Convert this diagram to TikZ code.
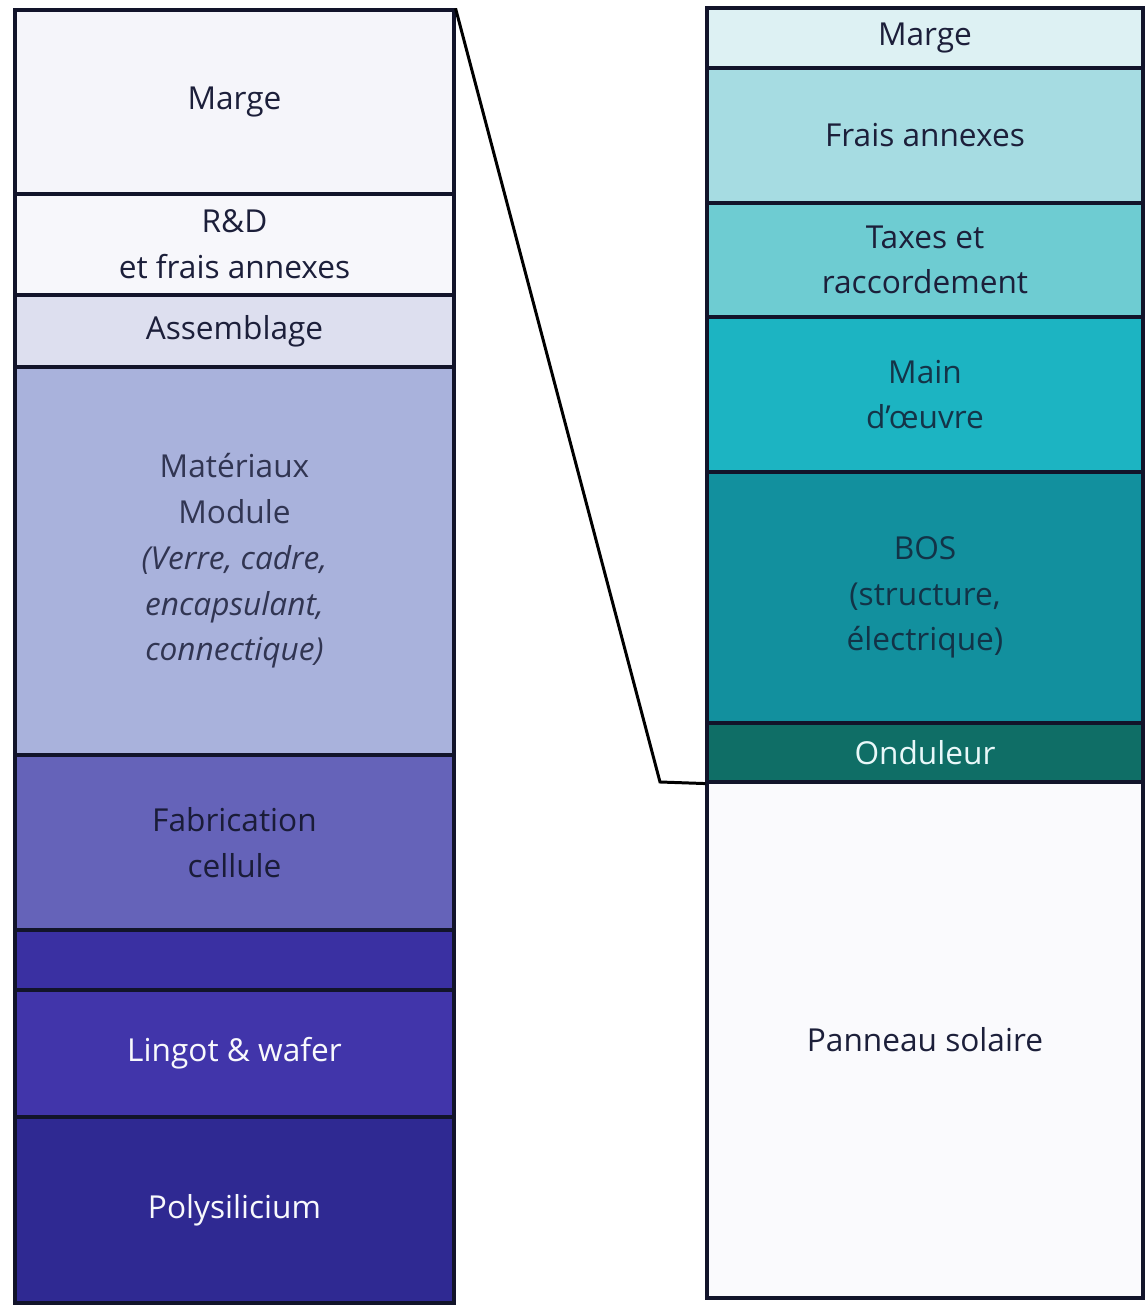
\documentclass[tikz,border=0pt]{standalone}
\usepackage{fontspec}
\setmainfont{Open Sans}
\usepackage{xcolor}
\definecolor{segline}{HTML}{12142A}
\definecolor{segtext}{HTML}{1C1F3A}
\definecolor{lmarge}{HTML}{F5F5FA}
\definecolor{lrd}{HTML}{F7F7FB}
\definecolor{lassem}{HTML}{DDDFEF}
\definecolor{lmater}{HTML}{A9B2DC}
\definecolor{lcell}{HTML}{6563B9}
\definecolor{lthin}{HTML}{3A30A2}
\definecolor{llingot}{HTML}{4135AA}
\definecolor{lpoly}{HTML}{2F2992}
\definecolor{rmarge}{HTML}{DDF1F3}
\definecolor{rfrais}{HTML}{A6DCE2}
\definecolor{rtaxes}{HTML}{6ECCD2}
\definecolor{rmain}{HTML}{1CB4C2}
\definecolor{rbos}{HTML}{12909E}
\definecolor{rond}{HTML}{0F6E66}
\definecolor{rpanel}{HTML}{FAFAFD}
\begin{document}
\begin{tikzpicture}
    \tikzset{
    cost seg/.style={rectangle,draw=segline,line width=1.8pt,inner sep=0,align=center,
        font=\fontsize{18}{26}\selectfont,text=segtext},
    left seg/.style={cost seg,minimum width=8.78cm},
    right seg/.style={cost seg,minimum width=8.72cm}
    }
    \useasboundingbox (0,0) rectangle (22.94,26.14);
    % chaine du module
    \node[left seg, fill=lmarge, minimum height=3.68cm] (LMarge) at (4.69,24.10) {Marge};
    \node[left seg, fill=lrd, minimum height=2.02cm] (RD) at (4.69,21.25) {R\&D\\et frais annexes};
    \node[left seg, fill=lassem, minimum height=1.44cm] (Assem) at (4.69,19.52) {Assemblage};
    \node[left seg, fill=lmater, minimum height=7.76cm, text=segtext!85!lmater] (Mater) at (4.69,14.92)
        {Matériaux\\Module\\\textit{(Verre, cadre,}\\\textit{encapsulant,}\\\textit{connectique)}};
    \node[left seg, fill=lcell, minimum height=3.50cm, text=segline!90!lcell] (Cell) at (4.69,9.29) {Fabrication\\cellule};
    \node[left seg, fill=lthin, minimum height=1.20cm] (Thin) at (4.69,6.94) {};
    \node[left seg, fill=llingot, minimum height=2.54cm, text=white!92!lmater] (Lingot) at (4.69,5.07) {Lingot \& wafer};
    \node[left seg, fill=lpoly, minimum height=3.72cm, text=white!92!lmater] (Poly) at (4.69,1.94) {Polysilicium};
    % installation
    \node[right seg, fill=rmarge, minimum height=1.20cm] (RMarge) at (18.50,25.38) {Marge};
    \node[right seg, fill=rfrais, minimum height=2.70cm] (Frais) at (18.50,23.43) {Frais annexes};
    \node[right seg, fill=rtaxes, minimum height=2.28cm] (Taxes) at (18.50,20.94) {Taxes et\\raccordement};
    \node[right seg, fill=rmain, minimum height=3.10cm, text=segline!80!rmain] (Main) at (18.50,18.25) {Main\\d'œuvre};
    \node[right seg, fill=rbos, minimum height=5.02cm, text=segline!75!rbos] (BOS) at (18.50,14.19) {BOS\\(structure,\\électrique)};
    \node[right seg, fill=rond, minimum height=1.18cm, text=white!90!rmain] (Ond) at (18.50,11.09) {Onduleur};
    \node[right seg, fill=rpanel, minimum height=10.32cm] (Panel) at (18.50,5.34) {Panneau solaire};
    % zoom
    \coordinate (kink) at (13.20,10.50);
    \draw[line width=1.7pt,black] (LMarge.north east) -- (kink) -- (Ond.south west);
\end{tikzpicture}
\end{document}
